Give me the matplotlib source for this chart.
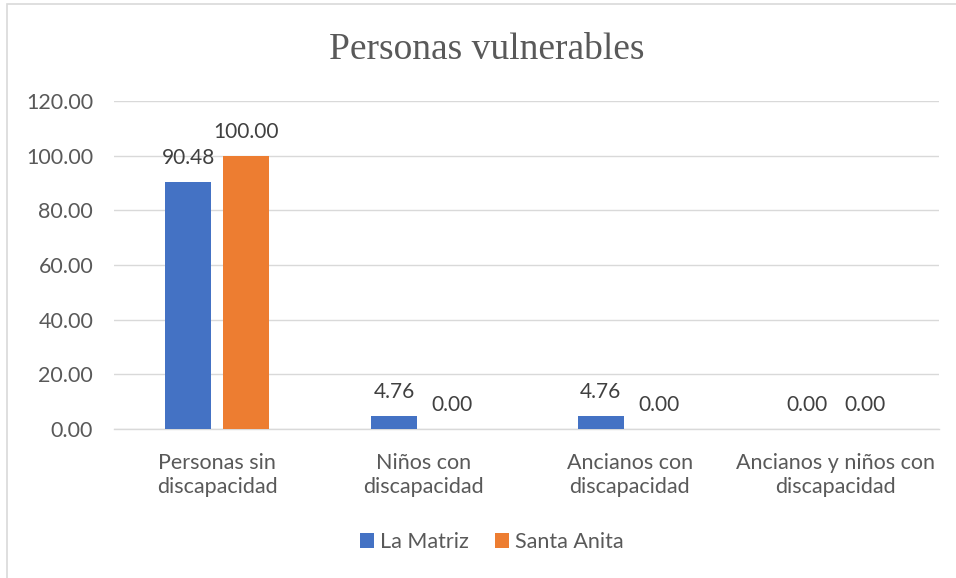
import matplotlib
matplotlib.use("Agg")
import matplotlib.pyplot as plt
import numpy as np
from matplotlib.patches import Rectangle

categories = ["Personas sin\ndiscapacidad", "Niños con\ndiscapacidad",
              "Ancianos con\ndiscapacidad", "Ancianos y niños con\ndiscapacidad"]
la_matriz = [90.48, 4.76, 4.76, 0.00]
santa_anita = [100.00, 0.00, 0.00, 0.00]
series_names = ["La Matriz", "Santa Anita"]
yticks = [0, 20, 40, 60, 80, 100, 120]

BLUE = "#4472C4"
ORANGE = "#ED7D31"
TXT = "#595959"
FONT = "Lato"

fig = plt.figure(figsize=(9.56, 5.78), dpi=100)
fig.patches.append(Rectangle((7/956, -0.01), 1.0, 1 - 4/578 + 0.01, transform=fig.transFigure,
                             fill=False, edgecolor="#D9D9D9", linewidth=1.2))
ax = fig.add_axes([114/956, 1 - 429/578, 825/956, 328/578])

x = np.arange(len(categories))
w = 0.223
gap = 0.058
off = (w + gap) / 2
b1 = ax.bar(x - off, la_matriz, w, color=BLUE, label=series_names[0], zorder=3)
b2 = ax.bar(x + off, santa_anita, w, color=ORANGE, label=series_names[1], zorder=3)

for bars, vals in ((b1, la_matriz), (b2, santa_anita)):
    for rect, v in zip(bars, vals):
        ax.annotate(f"{v:.2f}", (rect.get_x() + rect.get_width() / 2, v),
                    xytext=(0, 10), textcoords="offset points", ha="center", va="bottom",
                    fontsize=15, color="#404040", family=FONT)

ax.set_xlim(-0.5, len(categories) - 0.5)
ax.set_ylim(0, 120)
ax.set_yticks(yticks)
ax.set_yticklabels([f"{t:.2f}" for t in yticks], family=FONT, fontsize=15.5, color=TXT)
ax.set_xticks(x)
ax.set_xticklabels(categories, family=FONT, fontsize=15.5, color=TXT, linespacing=1.3)
ax.tick_params(axis="both", length=0)
ax.tick_params(axis="y", pad=15)
ax.tick_params(axis="x", pad=17)
ax.grid(axis="y", color="#D9D9D9", linewidth=1.0, zorder=0)
for s in ["top", "right", "left"]:
    ax.spines[s].set_visible(False)
ax.spines["bottom"].set_color("#D9D9D9")
ax.spines["bottom"].set_linewidth(1.0)

fig.text(487/956, 1 - 50/578, "Personas vulnerables", ha="center", va="center",
         family="Liberation Serif", fontsize=27, color=TXT)

leg = fig.legend(handles=[b1, b2], labels=series_names, loc="center",
                 bbox_to_anchor=(492/956, 1 - 542/578), ncol=2, frameon=False,
                 prop={"family": FONT, "size": 15.5}, handlelength=0.65, handleheight=0.7,
                 handletextpad=0.3, columnspacing=1.2)
for t in leg.get_texts():
    t.set_color(TXT)

fig.savefig("out.png", dpi=100)
